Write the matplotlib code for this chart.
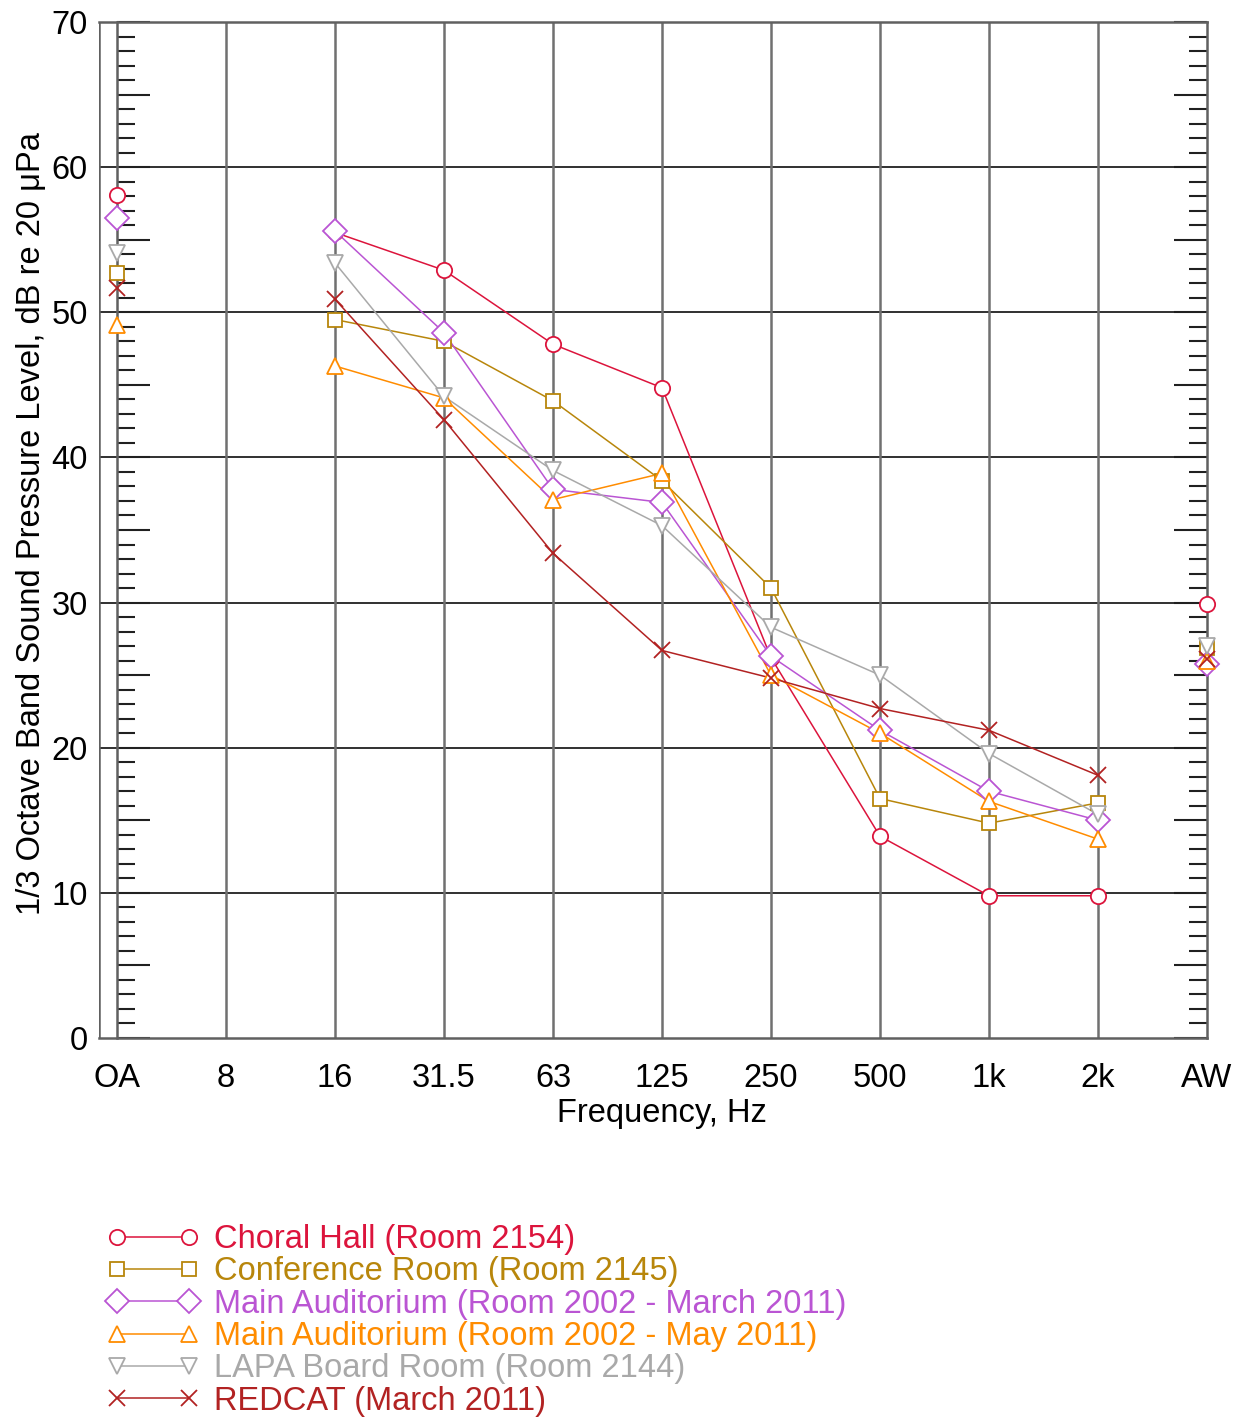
import matplotlib.pyplot as plt
from matplotlib.ticker import MultipleLocator, FuncFormatter

plt.rcParams['font.family'] = ['Liberation Sans', 'DejaVu Sans']

# x categories (OA, octave bands, AW)
freq_labels = ['OA', '8', '16', '31.5', '63', '125', '250', '500', '1k', '2k', 'AW']
xpos = list(range(len(freq_labels)))

# 1/3 octave band SPL, dB re 20 uPa (None = no value)
choral_hall = [58.1, None, 55.5, 52.9, 47.8, 44.8, 26.2, 13.9, 9.8, 9.8, 29.9]
conference = [52.7, None, 49.5, 48.0, 43.9, 38.4, 31.0, 16.5, 14.8, 16.2, 26.9]
main_aud_march = [56.5, None, 55.6, 48.6, 37.8, 36.9, 26.3, 21.2, 17.0, 15.0, 25.8]
main_aud_may = [49.1, None, 46.3, 44.1, 37.1, 38.9, 25.0, 21.0, 16.3, 13.7, 26.0]
lapa_board = [54.1, None, 53.4, 44.2, 39.1, 35.3, 28.3, 25.0, 19.6, 15.4, 27.0]
redcat = [51.7, None, 50.9, 42.6, 33.4, 26.7, 24.8, 22.7, 21.2, 18.1, 26.1]

series = [
    ('Choral Hall (Room 2154)', choral_hall, '#DC143C', 'o'),
    ('Conference Room (Room 2145)', conference, '#B8860B', 's'),
    ('Main Auditorium (Room 2002 - March 2011)', main_aud_march, '#BA55D3', 'D'),
    ('Main Auditorium (Room 2002 - May 2011)', main_aud_may, '#FF8C00', '^'),
    ('LAPA Board Room (Room 2144)', lapa_board, '#A9A9A9', 'v'),
    ('REDCAT (March 2011)', redcat, '#B22222', 'x'),
]

FS = 23.5

fig = plt.figure(figsize=(12.43, 14.18), dpi=100)
ax = fig.add_axes([99 / 1243, 1 - 1038 / 1418, 1108 / 1243, 1016 / 1418])

x_left = -0.165
ax.set_xlim(x_left, 10)
ax.set_ylim(0, 70)

# grid
for yv in range(10, 70, 10):
    ax.axhline(yv, color='#202020', lw=1.3, zorder=1)
for xv in xpos[1:-1]:
    ax.axvline(xv, color='#707070', lw=1.8, zorder=1)

# outer frame on the left
ax.axvline(x_left, color='#606060', lw=1.8, zorder=1)

sizes = {'o': 11, 's': 10.5, 'D': 12.5, '^': 11, 'v': 11, 'x': 11}
handles = []
for name, vals, col, mk in series:
    xs = [x for x, v in zip(xpos, vals) if v is not None]
    ys = [v for v in vals if v is not None]
    # OA and AW are single values, not joined
    ax.plot(xs[1:-1], ys[1:-1], '-', color=col, lw=1.1, zorder=3)
    ax.plot(xs, ys, linestyle='none', marker=mk, color=col, ms=sizes[mk],
            mfc='white', mec=col, mew=1.3, zorder=4, clip_on=False)
    handles.append(ax.plot([], [], '-', color=col, lw=1.1, marker=mk, ms=sizes[mk],
                           mfc='white', mec=col, mew=1.3, label=name)[0])

# spines
ax.spines['left'].set_position(('data', 0))
for s in ['left', 'right', 'bottom', 'top']:
    ax.spines[s].set_color('#606060')
    ax.spines[s].set_linewidth(1.8)

ax.yaxis.set_major_locator(MultipleLocator(5))
ax.yaxis.set_minor_locator(MultipleLocator(1))
ax.yaxis.set_major_formatter(FuncFormatter(lambda v, p: f'{int(v)}' if v % 10 == 0 else ''))
ax.tick_params(axis='y', which='both', direction='in', right=True, left=True,
               color='#202020', width=1.5, labelsize=FS, pad=21)
ax.tick_params(axis='y', which='major', length=24)
ax.tick_params(axis='y', which='minor', length=13)

ax.set_xticks(xpos)
ax.set_xticklabels(freq_labels)
ax.tick_params(axis='x', length=0, labelsize=FS, pad=18)

ax.set_ylabel('1/3 Octave Band Sound Pressure Level, dB re 20 μPa', fontsize=FS)
ax.yaxis.set_label_coords(-0.047, 0.506)
ax.set_xlabel('Frequency, Hz', fontsize=FS)
ax.xaxis.set_label_coords((5 - x_left) / (10 - x_left), -0.059)

leg = fig.legend(handles=handles, loc='upper left', bbox_to_anchor=(94 / 1243, 1 - 1211 / 1418),
                 frameon=False, fontsize=FS, numpoints=2, handlelength=2.81,
                 handletextpad=0.47, labelspacing=0.04, borderaxespad=0)
for txt, (_, _, col, _) in zip(leg.get_texts(), series):
    txt.set_color(col)

fig.savefig('out.png', dpi=100)
